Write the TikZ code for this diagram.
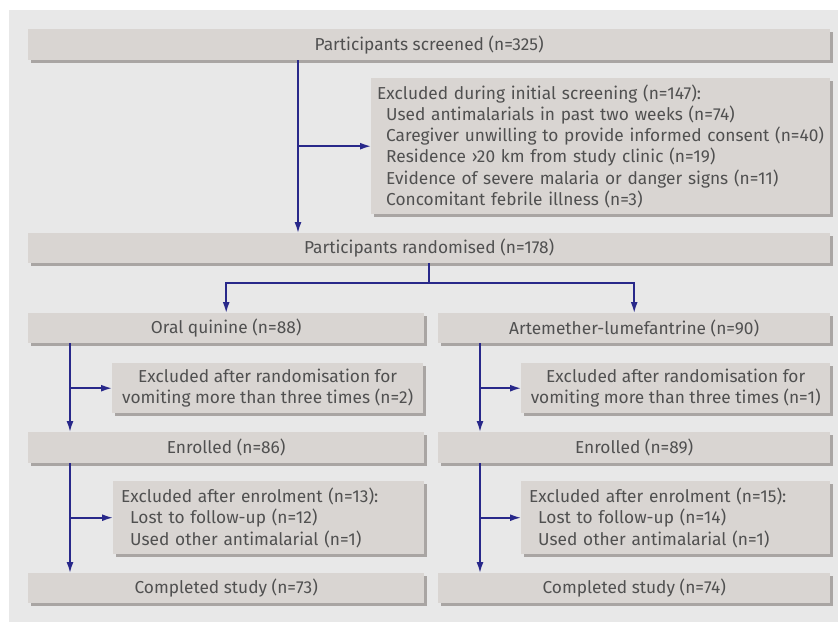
\documentclass[tikz,border=0pt]{standalone}
\usepackage{fontspec}
\setmainfont{Fira Sans}
\usetikzlibrary{arrows.meta}
\usetikzlibrary{shadows}
\definecolor{panel}{HTML}{E8E8E8}
\definecolor{boxfill}{HTML}{D9D5D2}
\definecolor{boxshade}{HTML}{A9A5A3}
\definecolor{flow}{HTML}{28288A}
\definecolor{txt}{HTML}{505050}

\begin{document}
\begin{tikzpicture}[x=1pt,y=-1pt,
		box/.style={fill=boxfill,text=txt,inner sep=0pt,anchor=north west,
			drop shadow={shadow xshift=3pt,shadow yshift=-3pt,fill=boxshade,opacity=1},
			font=\fontsize{17.3}{21.3}\selectfont},
		arr/.style={flow,line width=1.6pt,-{Latex[length=11pt,width=7pt]}},
		link/.style={flow,line width=1.6pt}]
	\useasboundingbox (0,0) rectangle (838,634);
	\fill[panel] (9,10) rectangle (838,622);
	% top part
	\node[box,minimum width=802pt,minimum height=31pt] (screen) at (28,29) {Participants screened (n=325)};
	\node[box,inner xsep=6pt,minimum height=136pt,text width=447pt,align=left] (excl) at (371,78)
	{Excluded during initial screening (n=147):\\
		\hspace*{9pt}Used antimalarials in past two weeks (n=74)\\
		\hspace*{9pt}Caregiver unwilling to provide informed consent (n=40)\\
		\hspace*{9pt}Residence ›20 km from study clinic (n=19)\\
		\hspace*{9pt}Evidence of severe malaria or danger signs (n=11)\\
		\hspace*{9pt}Concomitant febrile illness (n=3)};
	\node[box,minimum width=802pt,minimum height=30pt] (rand) at (28,233) {Participants randomised (n=178)};
	% two arms
	\node[box,minimum width=396pt,minimum height=30pt] (quin) at (28,313) {Oral quinine (n=88)};
	\node[box,minimum width=392pt,minimum height=30pt] (arte) at (438,313) {Artemether-lumefantrine (n=90)};
	\node[box,minimum width=311pt,minimum height=50pt,align=center] (exrq) at (112,363)
	{Excluded after randomisation for\\vomiting more than three times (n=2)};
	\node[box,minimum width=309pt,minimum height=50pt,align=center] (exra) at (521,363)
	{Excluded after randomisation for\\vomiting more than three times (n=1)};
	\node[box,minimum width=396pt,minimum height=31pt] (enq) at (28,432) {Enrolled (n=86)};
	\node[box,minimum width=392pt,minimum height=31pt] (ena) at (438,432) {Enrolled (n=89)};
	\node[box,minimum width=311pt,minimum height=73pt,text width=295pt,align=left] (exeq) at (113,481)
	{Excluded after enrolment (n=13):\\
		\hspace*{9pt}Lost to follow-up (n=12)\\
		\hspace*{9pt}Used other antimalarial (n=1)};
	\node[box,minimum width=309pt,minimum height=73pt,text width=293pt,align=left] (exea) at (521,481)
	{Excluded after enrolment (n=15):\\
		\hspace*{9pt}Lost to follow-up (n=14)\\
		\hspace*{9pt}Used other antimalarial (n=1)};
	\node[box,minimum width=396pt,minimum height=30pt] (comq) at (28,573) {Completed study (n=73)};
	\node[box,minimum width=392pt,minimum height=30pt] (coma) at (438,573) {Completed study (n=74)};
	% connectors
	\coordinate (tr) at (298,0);
	\coordinate (lq) at (70,0);
	\coordinate (la) at (480,0);
	\coordinate (split) at (429,283);
	\draw[arr] (screen.south -| tr) -- (rand.north -| tr);
	\draw[arr] (tr |- excl.west) -- (excl.west);
	\draw[link] (rand.south -| split) -- (split);
	\draw[arr] (split) -| (quin.north);
	\draw[arr] (split) -| (arte.north);
	\draw[arr] (quin.south -| lq) -- (enq.north -| lq);
	\draw[arr] (lq |- exrq.west) -- (exrq.west);
	\draw[arr] (arte.south -| la) -- (ena.north -| la);
	\draw[arr] (la |- exra.west) -- (exra.west);
	\draw[arr] (enq.south -| lq) -- (comq.north -| lq);
	\draw[arr] (lq |- exeq.west) -- (exeq.west);
	\draw[arr] (ena.south -| la) -- (coma.north -| la);
	\draw[arr] (la |- exea.west) -- (exea.west);
\end{tikzpicture}
\end{document}
